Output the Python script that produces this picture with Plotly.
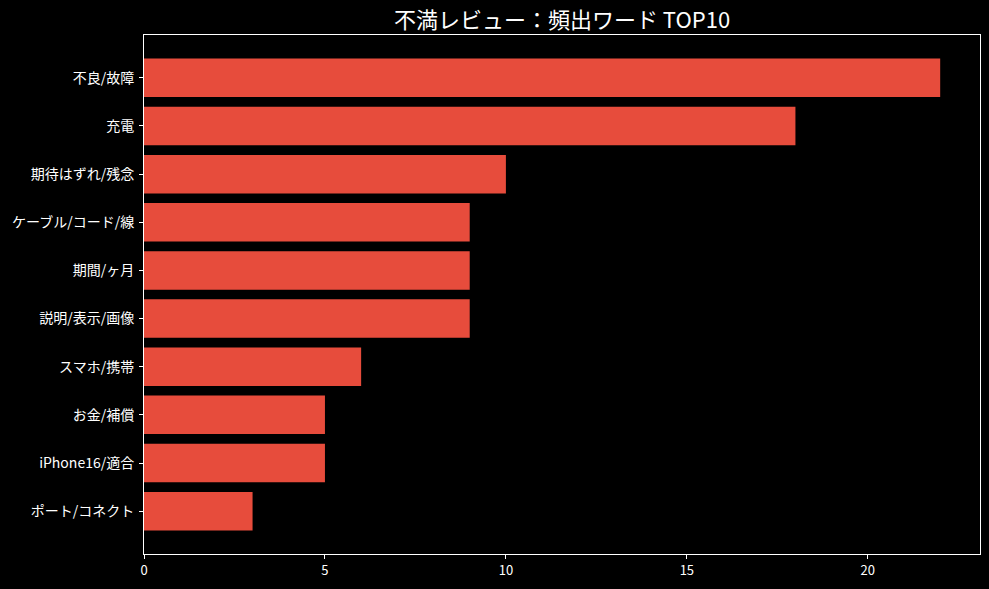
import plotly.graph_objects as go

categories = ["不良/故障", "充電", "期待はずれ/残念", "ケーブル/コード/線", "期間/ヶ月",
              "説明/表示/画像", "スマホ/携帯", "お金/補償", "iPhone16/適合", "ポート/コネクト"]
counts = [22, 18, 10, 9, 9, 9, 6, 5, 5, 3]
x_ticks = [0, 5, 10, 15, 20]

FONT = "Noto Sans CJK JP, Noto Sans, sans-serif"

fig = go.Figure(go.Bar(
    x=counts, y=categories, orientation="h",
    marker=dict(color="#e74c3c", line=dict(width=0)),
    hoverinfo="skip",
))

fig.update_layout(
    width=989, height=589,
    paper_bgcolor="black", plot_bgcolor="black",
    margin=dict(l=144, r=9, t=35, b=35),
    bargap=0.2,
    showlegend=False,
    font=dict(family=FONT, color="white", size=13),
    title=dict(text="不満レビュー：頻出ワード TOP10", x=0.5, xref="paper", xanchor="center",
               y=0.965, yref="container", yanchor="middle",
               font=dict(size=22, color="white", family=FONT)),
)
fig.update_xaxes(
    range=[0, 23.1], tickvals=x_ticks, showgrid=False, zeroline=False,
    showline=True, linecolor="white", linewidth=1, mirror=True,
    ticks="outside", ticklen=4, tickcolor="white", tickfont=dict(size=13, color="white"),
)
fig.update_yaxes(
    type="category", categoryorder="array", categoryarray=categories,
    range=[9.89, -0.89], showgrid=False, zeroline=False,
    showline=True, linecolor="white", linewidth=1, mirror=True,
    ticks="outside", ticklen=4, tickcolor="white", tickfont=dict(size=14, color="white"),
    ticklabelstandoff=2,
)

fig.write_html("out.html", config={"displayModeBar": False})
with open("out.html", encoding="utf-8") as f:
    html = f.read()
html = html.replace("<head>", "<head><style>html,body{margin:0;padding:0;background:black;overflow:hidden}</style>", 1)
with open("out.html", "w", encoding="utf-8") as f:
    f.write(html)
